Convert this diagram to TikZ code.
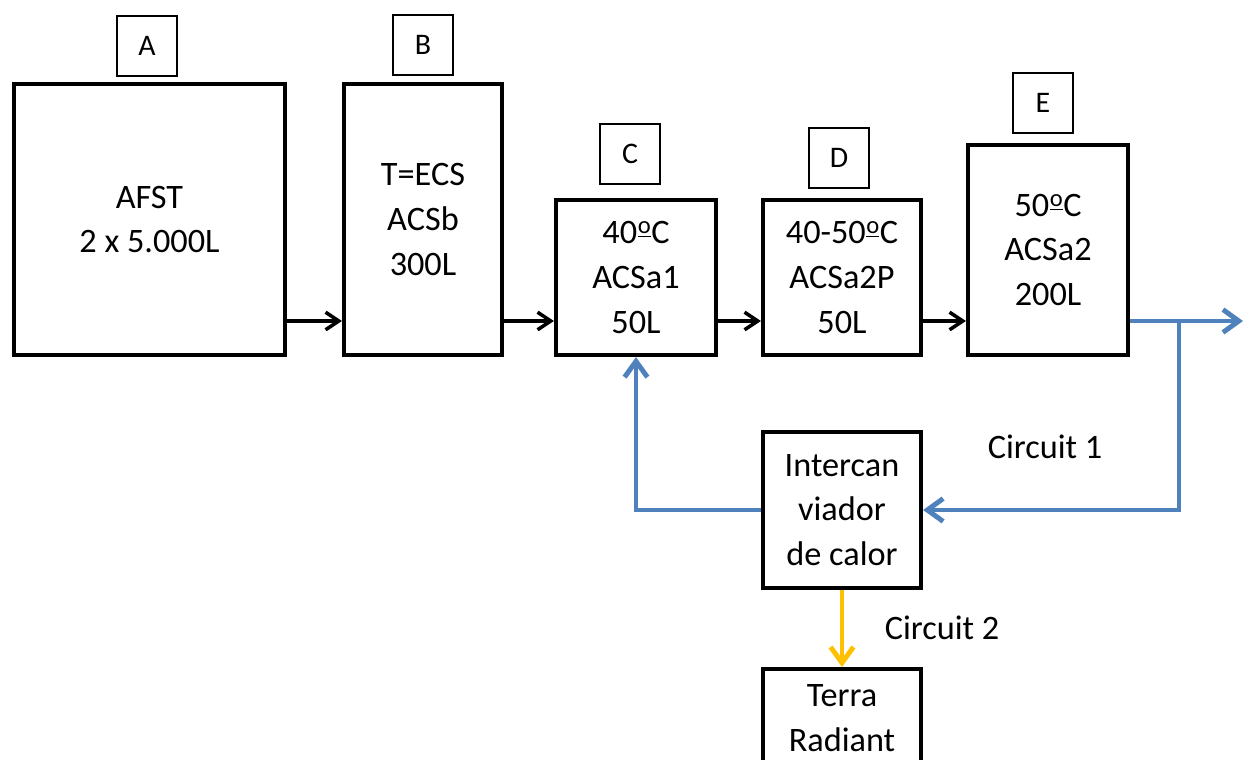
\documentclass[tikz,border=0pt]{standalone}
\usepackage{fontspec}
\setmainfont{Carlito}
\usetikzlibrary{arrows.meta}
\definecolor{cblue}{HTML}{4F81BD}
\definecolor{cyellow}{HTML}{FFC000}
\newcommand{\ordo}{\kern0.3pt\raisebox{5.6pt}{\fontsize{14}{14}\selectfont\underline{o}}\kern0.3pt}
\begin{document}
\begin{tikzpicture}[x=0.02cm,y=-0.02cm,
  tank/.style={draw=black, line width=2.4pt, align=center, inner sep=0pt,
    font=\fontsize{19.5}{25.5}\selectfont},
  tag/.style={draw=black, line width=1.2pt, minimum width=60*0.02cm,
    minimum height=60*0.02cm, inner sep=0pt, font=\fontsize{17}{19}\selectfont},
  lbl/.style={inner sep=0pt, font=\fontsize{19.5}{22}\selectfont},
  blk/.style={draw=black, line width=2pt, -{Straight Barb[length=7.5pt,width=10pt,line width=2pt]}},
  bflow/.style={draw=cblue, line width=2.8pt},
  barr/.style={-{Straight Barb[length=9pt,width=13pt,line width=2.8pt]}},
  yflow/.style={draw=cyellow, line width=2.8pt, -{Straight Barb[length=9pt,width=13pt,line width=2.8pt]}}
]
\useasboundingbox (0,0) rectangle (1244,760);
\clip (0,0) rectangle (1244,760);

% tanks
\node[tank, minimum width=271*0.02cm, minimum height=271*0.02cm] (afst) at (149.5,219.5) {AFST\\2 x 5.000L};
\node[tank, minimum width=158*0.02cm, minimum height=271*0.02cm] (tb) at (423,219.5) {T=ECS\\ACSb\\300L};
\node[tank, minimum width=160*0.02cm, minimum height=155*0.02cm] (tc) at (636,277.5) {40\ordo C\\ACSa1\\50L};
\node[tank, minimum width=158*0.02cm, minimum height=155*0.02cm] (td) at (842,277.5) {40-50\ordo C\\ACSa2P\\50L};
\node[tank, minimum width=160*0.02cm, minimum height=210*0.02cm] (te) at (1048,250) {50\ordo C\\ACSa2\\200L};
\node[tank, minimum width=158*0.02cm, minimum height=156*0.02cm] (hx) at (842,510) {Intercan\\viador\\de calor};
\node[tank, minimum width=158*0.02cm, minimum height=156*0.02cm, anchor=north] (tr) at (842,667) {Terra\\Radiant\\\strut};

% tags
\node[tag] (la) at (147,46) {A};
\node[tag] (lb) at (423,45) {B};
\node[tag] (lc) at (630,154) {C};
\node[tag] (ld) at (839,158) {D};
\node[tag] (le) at (1043,103) {E};

% labels
\node[lbl] (c1) at (1045,447) {Circuit 1};
\node[lbl] (c2) at (942,628) {Circuit 2};

% black flow arrows
\coordinate (ya) at (0,321);
\draw[blk] (afst.east |- ya) -- (tb.west |- ya);
\draw[blk] (tb.east |- ya) -- (tc.west |- ya);
\draw[blk] (tc.east |- ya) -- (td.west |- ya);
\draw[blk] (td.east |- ya) -- (te.west |- ya);

% circuit 1
\coordinate (out) at (1243,321);
\coordinate (jn) at (1179,321);
\draw[bflow,barr] (te.east |- out) -- (out);
\draw[bflow,barr] (jn) -- (jn |- hx.east) -- (hx.east);
\draw[bflow,barr] (hx.west) -| (tc.south);

% circuit 2
\draw[yflow] (hx.south) -- (tr.north);
\end{tikzpicture}
\end{document}
